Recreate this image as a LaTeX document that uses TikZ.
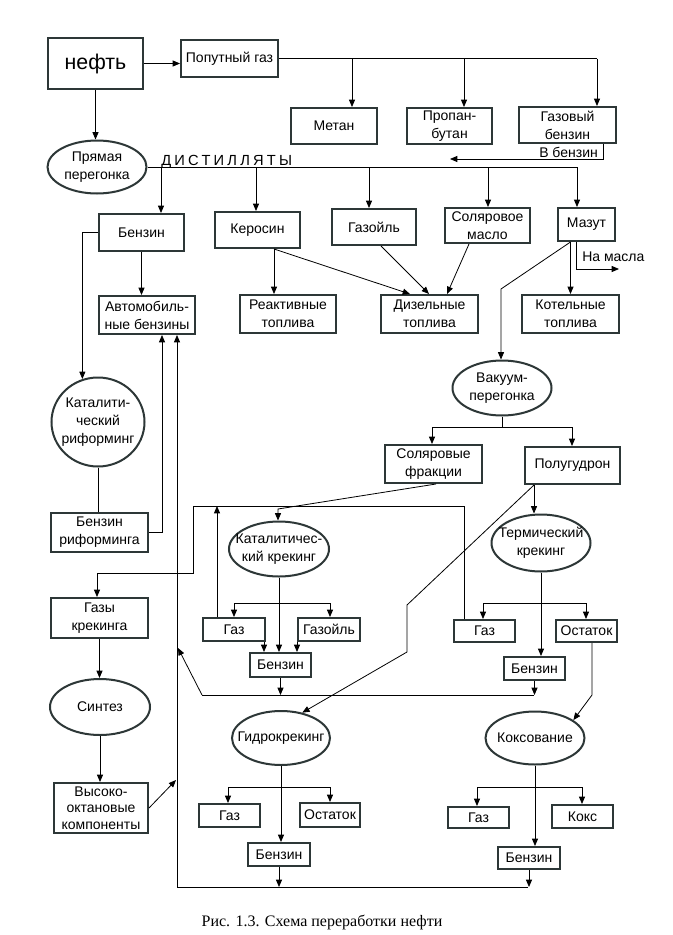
\documentclass[tikz,border=0pt]{standalone}
\usepackage{fontspec}
\setmainfont{Liberation Sans}
\newfontfamily\capfont{Liberation Serif}
\newfontfamily\distfont[LetterSpace=22]{Liberation Sans}
\usetikzlibrary{arrows.meta,shapes.geometric}
\definecolor{boxc}{RGB}{45,55,55}
% box from pixel corners: [options]{name}{x1}{y1}{x2}{y2}{text}
\newcommand\bxn[7][]{\node[box,#1,minimum width={(#5-#3)*0.75pt},minimum height={(#6-#4)*0.75pt}] (#2) at ({(#3+#5)/2},{(#4+#6)/2}) {#7};}
\begin{document}
\begin{tikzpicture}[x=0.75pt,y=-0.75pt,
  box/.style={draw=boxc,line width=1.5pt,rectangle,inner sep=0pt,align=center,font=\fontsize{10.5}{13.5}\selectfont},
  oval/.style={draw=boxc,line width=1.5pt,ellipse,inner sep=0pt},
  txt/.style={inner sep=0pt,align=center,font=\fontsize{10.5}{13.5}\selectfont},
  con/.style={line width=0.6pt},
  arr/.style={con,-{Triangle[length=5.5pt,width=4.5pt]}}]
\fill[white] (0,0) rectangle (672,935);
\useasboundingbox (0,0) rectangle (672,935);

% ---------- top ----------
\bxn[font=\fontsize{16}{18}\selectfont]{neft}{48}{38}{143}{89}{нефть}
\bxn{pop}{181}{40}{278}{77}{Попутный газ}
\bxn{metan}{291}{108}{377}{144}{Метан}
\bxn{propan}{407}{108}{492}{144}{Пропан-\\бутан}
\bxn{gazben}{519}{107}{616}{143}{Газовый\\бензин}
\node[oval,minimum width=74.25pt,minimum height=39.75pt,label={[txt]center:{Прямая\\перегонка}}] (pryam) at (97,167) {};

% ---------- distillates ----------
\bxn{benzin}{99}{214}{184}{251}{Бензин}
\bxn{kero}{215}{212}{300}{248}{Керосин}
\bxn{gazoil}{332}{209}{416}{245}{Газойль}
\bxn{solm}{445}{208}{530}{243}{Соляровое\\масло}
\bxn{mazut}{558}{208}{615}{241}{Мазут}

\bxn{avto}{99}{296}{195}{334}{Автомобиль-\\ные бензины}
\bxn{react}{240}{295}{336}{333}{Реактивные\\топлива}
\bxn{dizel}{381}{295}{478}{333}{Дизельные\\топлива}
\bxn{kotel}{522}{295}{619}{333}{Котельные\\топлива}

% ---------- left column ----------
\node[oval,minimum width=69.75pt,minimum height=66.75pt,label={[txt]center:{Каталити-\\ческий\\риформинг}}] (katrif) at (98,422) {};
\bxn{benzrif}{51}{513}{148}{552}{Бензин\\риформинга}
\bxn{gazykr}{51}{598}{148}{638}{Газы\\крекинга}
\node[oval,minimum width=75pt,minimum height=42pt,label={[txt]center:{Синтез}}] (sintez) at (100,707) {};
\bxn[font=\fontsize{10.5}{12.5}\selectfont]{vys}{54}{783}{148}{833}{Высоко-\\октановые\\компоненты}

% ---------- vacuum ----------
\node[oval,minimum width=74.25pt,minimum height=41.25pt,label={[txt]center:{Вакуум-\\перегонка}}] (vakuum) at (502,388) {};
\bxn{solfr}{385}{445}{482}{483}{Соляровые\\фракции}
\bxn{polu}{525}{447}{620}{484}{Полугудрон}

% ---------- catalytic cracking ----------
\node[oval,minimum width=75pt,minimum height=41.25pt,label={[txt]center:{Каталитичес-\\кий крекинг}}] (katkr) at (279,549) {};
\bxn{gazc}{203}{618}{265}{641}{Газ}
\bxn{gazoilc}{298}{618}{360}{641}{Газойль}
\bxn{benzc}{250}{653}{311}{677}{Бензин}

% ---------- thermal cracking ----------
\node[oval,minimum width=74.25pt,minimum height=42.75pt,label={[txt]center:{Термический\\крекинг}}] (termo) at (541,543) {};
\bxn{gazt}{454}{620}{515}{642}{Газ}
\bxn{ostt}{556}{620}{617}{642}{Остаток}
\bxn{benzt}{504}{657}{565}{680}{Бензин}

% ---------- hydrocracking ----------
\node[oval,minimum width=73.5pt,minimum height=40.5pt,label={[txt]center:{Гидрокрекинг}}] (hydro) at (281,738) {};
\bxn{gazh}{199}{804}{260}{827}{Газ}
\bxn{osth}{300}{803}{360}{827}{Остаток}
\bxn{benzh}{248}{843}{310}{866}{Бензин}

% ---------- coking ----------
\node[oval,minimum width=74.25pt,minimum height=39.75pt,label={[txt]center:{Коксование}}] (koks) at (535,738) {};
\bxn{gazk}{448}{807}{509}{828}{Газ}
\bxn{koksb}{552}{805}{613}{828}{Кокс}
\bxn{benzk}{498}{847}{560}{869}{Бензин}

% ---------- labels ----------
\node[txt,anchor=west] (vbl) at (539,152) {В бензин};
\node[txt,anchor=west] (nml) at (582,257) {На масла};
\node[inner sep=0pt,anchor=base west,font=\distfont\fontsize{11}{13}\selectfont] (dist) at (161,165.5) {ДИСТИЛЛЯТЫ};
\node[inner sep=0pt,font=\capfont\fontsize{12}{14}\selectfont] (cap) at (322,922) {Рис. 1.3. Схема переработки нефти};

% ---------- helper coordinates ----------
\coordinate (gm) at (352,58.5);
\coordinate (gp) at (464,58.5);
\coordinate (gg) at (597,58.5);
\coordinate (vb1) at (603,159);
\coordinate (vb2) at (450,159);
\coordinate (db) at (161,167);
\coordinate (dk) at (256,167);
\coordinate (dg) at (369,167);
\coordinate (ds) at (488,167);
\coordinate (dm) at (577,167);
\coordinate (xk) at (274,0);
\coordinate (xd1) at (410,0);
\coordinate (xg) at (381,0);
\coordinate (xd2) at (429,0);
\coordinate (xs) at (469,0);
\coordinate (xd3) at (447,0);
\coordinate (nm) at (576,269);
\coordinate (nmend) at (619,269);
\coordinate (mv) at (501,289);
\coordinate (vl) at (432,427);
\coordinate (vr) at (572,427);
\coordinate (xsf) at (436,0);
\coordinate (sk) at (278,509);
\coordinate (L1) at (464,506);
\coordinate (L2) at (193,506);
\coordinate (L3) at (193,573);
\coordinate (L4) at (97,573);
\coordinate (gcu) at (217,506);
\coordinate (cl) at (234,603);
\coordinate (cr) at (330,603);
\coordinate (xgc) at (264,0);
\coordinate (H1) at (202,695);
\coordinate (H2) at (534,695);
\coordinate (A1) at (178,648);
\coordinate (A2) at (176,780);
\coordinate (xp) at (534,0);
\coordinate (P1) at (407,605);
\coordinate (P2) at (407,652);
\coordinate (tl) at (483,603);
\coordinate (tr) at (586,603);
\coordinate (O1) at (592,695);
\coordinate (hl) at (228,787);
\coordinate (hr) at (330,787);
\coordinate (kl) at (477,787);
\coordinate (kr) at (582,787);
\coordinate (B1) at (177,887);
\coordinate (B2) at (528,887);
\coordinate (xr) at (162,0);

% ---------- connectors: top ----------
\draw[arr] (neft.east) -- (neft.east -| pop.west);
\draw[arr] (neft.south) -- (neft.south |- pryam.north);
\draw[con] (pop.east) -- (gg);
\draw[arr] (gm) -- (gm |- metan.north);
\draw[arr] (gp) -- (gp |- propan.north);
\draw[arr] (gg) -- (gg |- gazben.north);
\draw[arr] (gazben.south -| vb1) -- (vb1) -- (vb2);

% distillates
\draw[con] (pryam.east) -- (dm);
\draw[arr] (db) -- (db |- benzin.north);
\draw[arr] (dk) -- (dk |- kero.north);
\draw[arr] (dg) -- (dg |- gazoil.north);
\draw[arr] (ds) -- (ds |- solm.north);
\draw[arr] (dm) -- (dm |- mazut.north);

\draw[arr] (benzin.south) -- (benzin.south |- avto.north);
\draw[arr] (benzin.west) -| (katrif.110);
\draw[arr] (kero.south -| xk) -- (xk |- react.north);
\draw[arr] (kero.south -| xk) -- (xd1 |- dizel.north);
\draw[arr] (gazoil.south -| xg) -- (xd2 |- dizel.north);
\draw[arr] (solm.south -| xs) -- (xd3 |- dizel.north);
\draw[arr] (mazut.south -| kotel.north) -- (kotel.north);
\draw[arr] (mazut.south -| nm) -- (nm) -- (nmend);
\draw[arr] (mazut.south -| kotel.north) -- (mv) -- (mv |- vakuum.north);

% vacuum
\draw[con] (vakuum.south) -- (vakuum.south |- vl);
\draw[con] (vl) -- (vr);
\draw[arr] (vl) -- (vl |- solfr.north);
\draw[arr] (vr) -- (vr |- polu.north);
\draw[arr] (solfr.south -| xsf) -- (sk) -- (sk |- katkr.north);

% reforming
\draw[con] (katrif.south) -- (katrif.south |- benzrif.north);
\draw[arr] (benzrif.east) -| (xr |- avto.south);

% catalytic cracking
\draw[arr] (katkr.south) -- (katkr.south |- benzc.north);
\draw[con] (cl) -- (cr);
\draw[arr] (cl) -- (cl |- gazc.north);
\draw[arr] (cr) -- (cr |- gazoilc.north);
\draw[arr] (gazc.south -| xgc) -- (xgc |- benzc.north);
\draw[arr] (gazoilc.south west) -- (gazoilc.south west |- benzc.north);
\draw[arr] (gazc.north -| gcu) -- (gcu);

% thermal cracking
\draw[arr] (polu.south -| xp) -- (xp |- termo.north);
\draw[arr] (polu.south -| xp) -- (P1) -- (P2) -- (hydro.50);
\draw[arr] (termo.south) -- (termo.south |- benzt.north);
\draw[con] (tl) -- (tr);
\draw[arr] (tl) -- (tl |- gazt.north);
\draw[arr] (tr) -- (tr |- ostt.north);
\draw[arr] (ostt.south -| O1) -- (O1) -- (koks.25);
\draw[arr] (gazt.north -| L1) -- (L1) -- (L2) -- (L3) -- (L4) -- (L4 |- gazykr.north);

% gasoline collector at y=695
\draw[con] (H2) -- (H1);
\draw[arr] (H1) -- (A1);
\draw[arr] (benzc.south) -- (benzc.south |- H1);
\draw[arr] (benzt.south) -- (benzt.south |- H1);

% left column
\draw[arr] (gazykr.south) -- (gazykr.south |- sintez.north);
\draw[arr] (sintez.south) -- (sintez.south |- vys.north);
\draw[arr] (vys.east) -- (A2);

% hydrocracking
\draw[arr] (hydro.south) -- (hydro.south |- benzh.north);
\draw[con] (hl) -- (hr);
\draw[arr] (hl) -- (hl |- gazh.north);
\draw[arr] (hr) -- (hr |- osth.north);

% coking
\draw[arr] (koks.south) -- (koks.south |- benzk.north);
\draw[con] (kl) -- (kr);
\draw[arr] (kl) -- (kl |- gazk.north);
\draw[arr] (kr) -- (kr |- koksb.north);

% bottom collector
\draw[arr] (benzh.south) -- (benzh.south |- B1);
\draw[arr] (benzk.south) -- (benzk.south |- B1);
\draw[arr] (B2) -- (B1) -- (B1 |- avto.south);
\end{tikzpicture}
\end{document}
